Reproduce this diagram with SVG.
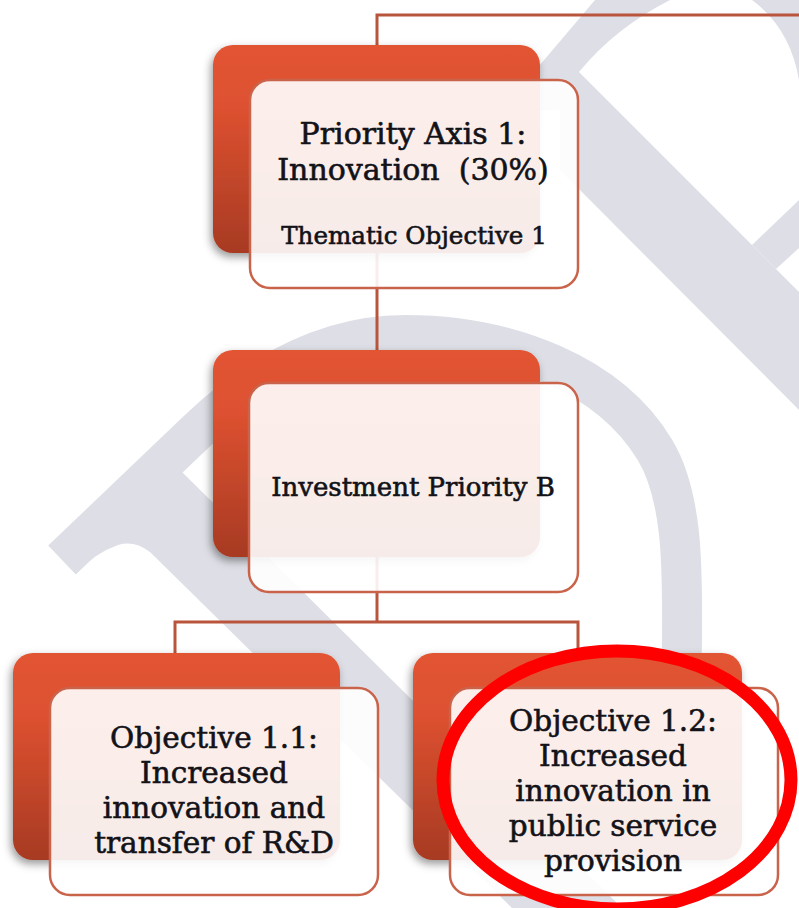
<svg xmlns="http://www.w3.org/2000/svg" width="799" height="908" viewBox="0 0 799 908">
  <defs>
    <linearGradient id="backGrad" x1="0" y1="0" x2="0" y2="1">
      <stop offset="0" stop-color="#e25431"/>
      <stop offset="0.3" stop-color="#dd5130"/>
      <stop offset="1" stop-color="#a73a23"/>
    </linearGradient>
    <filter id="shadow" x="-10%" y="-10%" width="120%" height="125%">
      <feDropShadow dx="-2" dy="4" stdDeviation="4" flood-color="#000" flood-opacity="0.4"/>
    </filter>
  </defs>
  <style>
    .wm { fill: #dedfe6; }
    .wm-stroke { fill: none; stroke: #dedfe6; }
    .link { fill: none; stroke: #b9553d; stroke-width: 3; }
    .back { fill: url(#backGrad); filter: url(#shadow); }
    .front { fill: #ffffff; fill-opacity: 0.9; stroke: #c9644b; stroke-width: 2.5; }
    text { font-family: "DejaVu Serif", "Liberation Serif", serif; fill: #121218; stroke: #121218; stroke-width: 0.6; text-anchor: middle; }
    .big { font-size: 30px; }
    .mid { font-size: 26px; }
    .small { font-size: 24.6px; }
    .obj { font-size: 29.5px; }
    .mark { fill: none; stroke: #ff0000; stroke-width: 13; }
  </style>

  <rect width="799" height="908" fill="#ffffff"/>

  <!-- background watermark -->
  <g id="watermark">
    <path class="wm-stroke" stroke-width="40" d="M 62,560 L 195,433 C 255,375 325,335 405,335 C 510,335 610,375 655,450 C 685,500 682,580 682,640 L 680,760"/>
    <path class="wm" d="M 182,472 L 622,908 L 512,908 L 150,552 Q 134,540 118,545 Q 95,553 75,574 L 120,520 Z"/>
    <path class="wm" d="M 500,112 L 595,0 L 670,0 Q 615,28 579,72 L 560,110 Z"/>
    <path class="wm" d="M 560,53 L 579,72 L 799,292 L 799,410 L 560,170 Z"/>
    <path class="wm" d="M 752,245 L 799,200 L 799,248 L 776,269 Z"/>
    <path class="wm" d="M 752,0 Q 790,28 799,80 L 799,0 Z"/>
  </g>

  <!-- connectors -->
  <g id="connectors">
    <polyline class="link" points="377,45 377,15 799,15"/>
    <line class="link" x1="377" y1="253" x2="377" y2="350"/>
    <polyline class="link" points="377,557 377,622"/>
    <polyline class="link" points="175,653 175,622 578,622 578,653"/>
  </g>

  <!-- Priority axis -->
  <g id="node-axis">
    <rect class="back" x="213" y="45" width="327" height="208" rx="20"/>
    <rect class="front" x="250" y="80" width="328" height="208" rx="20"/>
    <text class="big" x="413" y="144">Priority Axis 1:</text>
    <text class="big" x="413" y="180" xml:space="preserve">Innovation  (30%)</text>
    <text class="small" x="414" y="244">Thematic Objective 1</text>
  </g>

  <!-- Investment priority -->
  <g id="node-investment">
    <rect class="back" x="213" y="350" width="327" height="207" rx="20"/>
    <rect class="front" x="249" y="383" width="329" height="209" rx="20"/>
    <text class="mid" x="413" y="496">Investment Priority B</text>
  </g>

  <!-- Objective 1.1 -->
  <g id="node-obj11">
    <rect class="back" x="13" y="653" width="327" height="207" rx="20"/>
    <rect class="front" x="50" y="688" width="328" height="207" rx="20"/>
    <text class="obj" x="214" y="748">Objective 1.1:</text>
    <text class="obj" x="214" y="783">Increased</text>
    <text class="obj" x="214" y="818">innovation and</text>
    <text class="obj" x="214" y="853">transfer of R&amp;D</text>
  </g>

  <!-- Objective 1.2 -->
  <g id="node-obj12">
    <rect class="back" x="413" y="653" width="329" height="207" rx="20"/>
    <rect class="front" x="450" y="688" width="328" height="207" rx="20"/>
    <text class="obj" x="613" y="731">Objective 1.2:</text>
    <text class="obj" x="613" y="766">Increased</text>
    <text class="obj" x="613" y="801">innovation in</text>
    <text class="obj" x="613" y="836">public service</text>
    <text class="obj" x="613" y="871">provision</text>
  </g>

  <!-- highlight ring -->
  <ellipse class="mark" cx="617" cy="780" rx="174" ry="129"/>
</svg>
